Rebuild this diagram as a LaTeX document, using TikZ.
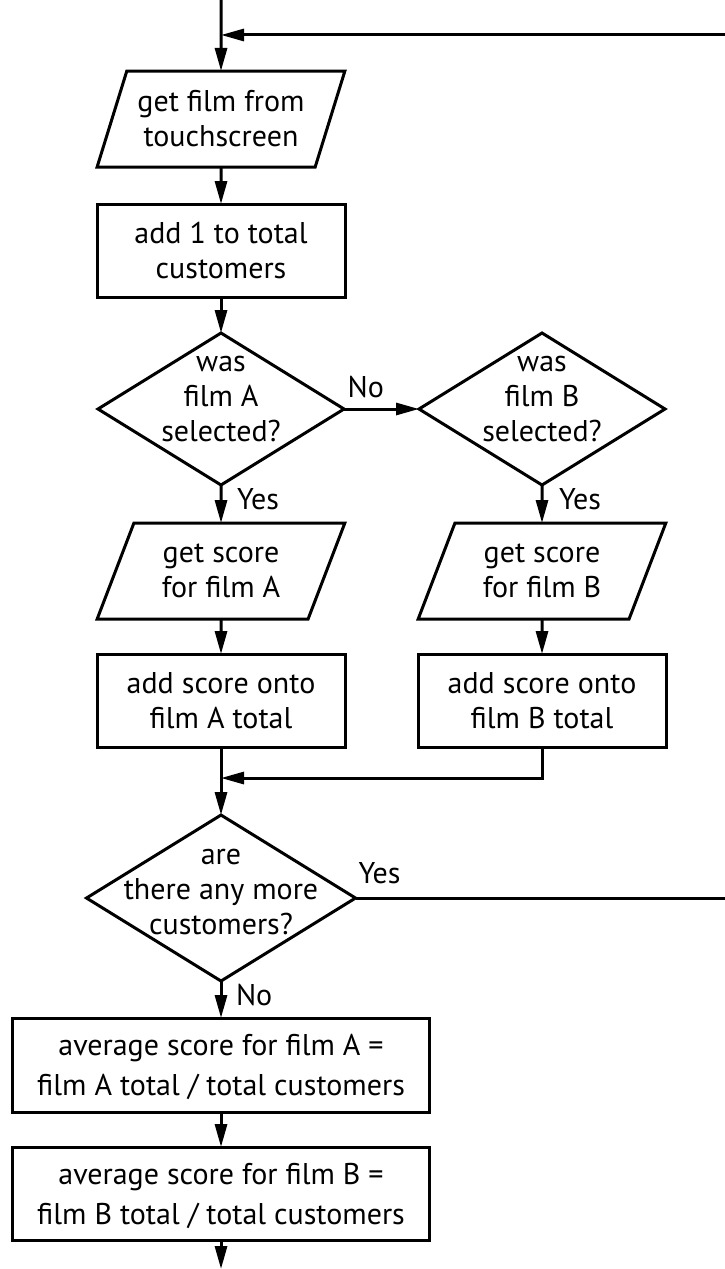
\documentclass[tikz,border=0pt]{standalone}
\usepackage{fontspec}
\setmainfont{PT Sans}
\usepackage{tikz}
\usetikzlibrary{arrows.meta,positioning,shapes.geometric}

\begin{document}
\begin{tikzpicture}[x=1pt,y=1pt,>={Triangle[length=23pt,width=12pt]},
  line width=3pt,node distance=37pt,
  every node/.style={font=\fontsize{30}{35}\selectfont,align=center,outer sep=0pt},
  io node/.style={trapezium,trapezium left angle=66,trapezium right angle=114,
    trapezium stretches=true,draw,inner sep=2pt,minimum width=248pt,minimum height=96pt},
  proc node/.style={rectangle,draw,inner sep=2pt,minimum width=248pt,minimum height=93pt},
  dec node/.style={diamond,draw,inner sep=-80pt,minimum width=246pt,minimum height=152pt,text depth=20pt},
  lbl/.style={inner sep=0pt}]

  \useasboundingbox (0,0) rectangle (725,-1269);

  \node[io node] (getfilm) at (221,-119) {get film from\\touchscreen};
  \node[proc node] (addone) [below=of getfilm] {add 1 to total\\customers};
  \node[dec node] (selA) [below=36pt of addone] {was\\film A\\selected?};
  \node[dec node] (selB) [right=75pt of selA] {was\\film B\\selected?};

  \node[io node] (scoreA) [below=38pt of selA] {get score\\for film A};
  \node[io node] (scoreB) [below=38pt of selB] {get score\\for film B};
  \node[proc node] (addA) [below=35pt of scoreA] {add score onto\\film A total};
  \node[proc node] (addB) [below=35pt of scoreB] {add score onto\\film B total};

  \node[dec node] (selC) [below=68pt of addA,minimum width=269pt,minimum height=166pt,text depth=12pt] {are\\there any more\\customers?};

  \node[proc node] (avgA) [below=of selC,minimum width=417pt,minimum height=94pt,text depth=-4pt,font=\fontsize{30}{40}\selectfont] {average score for film A =\\film A total / total customers};
  \node[proc node] (avgB) [below=35pt of avgA,minimum width=417pt,minimum height=93pt,text depth=-4pt,font=\fontsize{30}{40}\selectfont] {average score for film B =\\film B total / total customers};

  \coordinate[above=71pt of getfilm] (start);
  \coordinate[above=36pt of getfilm] (loopin);
  \coordinate[below=31pt of addA] (merge);
  \coordinate[below=29pt of avgB] (finish);

\draw [->] (start) -- (getfilm);
\draw [->] (getfilm) -- (addone);
\draw [->] (addone) -- (selA);
\draw [->] (selA) -- node[lbl,pos=0.29,above=11pt] {No} (selB);
\draw [->] (selA) -- node[lbl,pos=0.37,right=16pt] {Yes} (scoreA);
\draw [->] (selB) -- node[lbl,pos=0.37,right=17pt] {Yes} (scoreB);
\draw [->] (scoreA) -- (addA);
\draw [->] (scoreB) -- (addB);

\draw [->] (addA) -- (selC);
\draw [->] (addB) |- (merge);

\draw [->] (selC) -- node[lbl,pos=0.37,right=15pt] {No} (avgA);
\draw [->] (selC.east) -- node[lbl,pos=0,above right=14pt and 3pt] {Yes} ++(375,0) |- (loopin);
\draw [->] (avgA) -- (avgB);
\draw [->] (avgB) -- (finish);

\end{tikzpicture}
\end{document}
